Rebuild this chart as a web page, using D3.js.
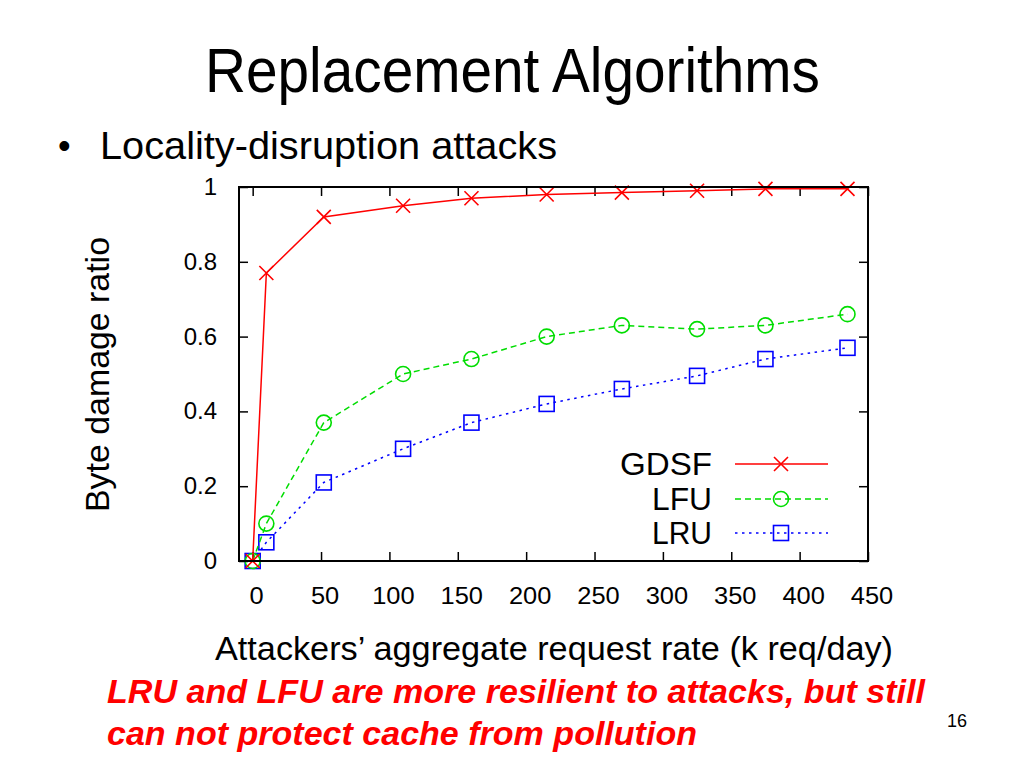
<!DOCTYPE html>
<html><head><meta charset="utf-8">
<script src="https://cdn.jsdelivr.net/npm/d3@7"></script>
<style>
html,body{margin:0;padding:0;background:#fff;}
svg{display:block;font-family:"Liberation Sans",Arial,Helvetica,sans-serif;}
</style></head>
<body>
<svg id="c" width="1024" height="768"></svg>
<script>
const xValues = [0, 10, 52, 110, 160, 215, 270, 325, 375, 435];
const gdsf = [0, 0.77, 0.92, 0.95, 0.97, 0.98, 0.985, 0.99, 0.995, 0.995];
const lfu  = [0, 0.10, 0.37, 0.50, 0.54, 0.60, 0.63, 0.62, 0.63, 0.66];
const lru  = [0, 0.05, 0.21, 0.30, 0.37, 0.42, 0.46, 0.495, 0.54, 0.57];
const seriesNames = ["GDSF", "LFU", "LRU"];
const xTicks = [0, 50, 100, 150, 200, 250, 300, 350, 400, 450];
const yTicks = [0, 0.2, 0.4, 0.6, 0.8, 1];
const yTickLabels = ["0", "0.2", "0.4", "0.6", "0.8", "1"];

const svg = d3.select("#c");
const L = 239, R = 868, T = 187, B = 561;
const x = d3.scaleLinear().domain([-10, 450]).range([L, R]);
const y = d3.scaleLinear().domain([0, 1]).range([B, T]);

// Title & bullet
svg.append("text").attr("x", 205).attr("y", 92).attr("font-size", 63)
  .attr("textLength", 615).attr("lengthAdjust", "spacingAndGlyphs").text("Replacement Algorithms");
svg.append("text").attr("x", 58).attr("y", 158).attr("font-size", 36).text("•");
svg.append("text").attr("x", 100).attr("y", 159).attr("font-size", 39)
  .attr("textLength", 457).attr("lengthAdjust", "spacingAndGlyphs").text("Locality-disruption attacks");

// axes (ticks inward)
const tickLen = 9;
const gx = svg.append("g").attr("transform", `translate(0,${B})`)
  .call(d3.axisBottom(x).tickValues(xTicks).tickSize(-tickLen).tickFormat(""));
const gxt = svg.append("g").attr("transform", `translate(0,${T})`)
  .call(d3.axisTop(x).tickValues(xTicks).tickSize(-tickLen).tickFormat(""));
const gy = svg.append("g").attr("transform", `translate(${L},0)`)
  .call(d3.axisLeft(y).tickValues(yTicks).tickSize(-tickLen).tickFormat(""));
const gyr = svg.append("g").attr("transform", `translate(${R},0)`)
  .call(d3.axisRight(y).tickValues(yTicks).tickSize(-tickLen).tickFormat(""));
[gx, gxt, gy, gyr].forEach(g => {
  g.select(".domain").remove();
  g.selectAll(".tick line").attr("stroke", "#000").attr("stroke-width", 1.5);
});

// tick labels
svg.append("g").selectAll("text").data(xTicks).join("text")
  .attr("x", d => x(d) + 4).attr("y", 604).attr("text-anchor", "middle")
  .attr("font-size", 24).attr("transform", d => `translate(${x(d)+4},604) scale(1.06,1) translate(${-(x(d)+4)},-604)`)
  .text(d => d);
svg.append("g").selectAll("text").data(yTicks).join("text")
  .attr("x", 217).attr("y", d => y(d) + 8).attr("text-anchor", "end")
  .attr("font-size", 24).text((d, i) => yTickLabels[i]);

// axis titles
svg.append("text").attr("x", 215).attr("y", 660).attr("font-size", 33)
  .attr("textLength", 678).attr("lengthAdjust", "spacingAndGlyphs")
  .text("Attackers\u2019 aggregate request rate (k req/day)");
svg.append("text").attr("transform", "translate(109,512) rotate(-90)").attr("font-size", 34)
  .attr("textLength", 275).attr("lengthAdjust", "spacingAndGlyphs").text("Byte damage ratio");

// series
const data = [
  {name: seriesNames[0], vals: gdsf, color: "#ff0000", dash: null, marker: "x"},
  {name: seriesNames[1], vals: lfu, color: "#00dd00", dash: "6,4", marker: "o"},
  {name: seriesNames[2], vals: lru, color: "#0000ff", dash: "2.5,4.5", marker: "s"}
];
const line = d3.line().x(d => x(d[0])).y(d => y(d[1]));
function drawMarker(g, type, color, cx, cy) {
  if (type === "x") {
    const s = 7;
    g.append("path").attr("d", `M${cx-s},${cy-s}L${cx+s},${cy+s}M${cx-s},${cy+s}L${cx+s},${cy-s}`)
      .attr("stroke", color).attr("stroke-width", 1.6).attr("fill", "none");
  } else if (type === "o") {
    g.append("circle").attr("cx", cx).attr("cy", cy).attr("r", 7.5)
      .attr("stroke", color).attr("stroke-width", 1.6).attr("fill", "none");
  } else {
    g.append("rect").attr("x", cx-7.5).attr("y", cy-7.5).attr("width", 15).attr("height", 15)
      .attr("stroke", color).attr("stroke-width", 1.6).attr("fill", "none");
  }
}
data.slice().reverse().forEach(s => {
  const pts = xValues.map((xv, i) => [xv, s.vals[i]]);
  const g = svg.append("g");
  g.append("path").attr("d", line(pts)).attr("fill", "none").attr("stroke", s.color)
    .attr("stroke-width", 1.5).attr("stroke-dasharray", s.dash);
  pts.forEach(p => drawMarker(g, s.marker, s.color, x(p[0]), y(p[1])));
});

// legend
const legY = [464, 499, 533];
const legW = [92, 60, 60];
data.forEach((s, i) => {
  const g = svg.append("g");
  g.append("text").attr("x", 712 - legW[i]).attr("y", legY[i] + 11)
    .attr("font-size", 32).attr("textLength", legW[i]).attr("lengthAdjust", "spacingAndGlyphs").text(s.name);
  g.append("line").attr("x1", 735).attr("x2", 828).attr("y1", legY[i]).attr("y2", legY[i])
    .attr("stroke", s.color).attr("stroke-width", 1.5).attr("stroke-dasharray", s.dash);
  drawMarker(g, s.marker, s.color, 781, legY[i]);
});

// frame
svg.append("rect").attr("x", L).attr("y", T).attr("width", R - L).attr("height", B - T)
  .attr("fill", "none").attr("stroke", "#000").attr("stroke-width", 2);

// bottom note
const note = svg.append("g").attr("fill", "#ff0000").attr("font-weight", "bold").attr("font-style", "italic").attr("font-size", 33);
note.append("text").attr("x", 107).attr("y", 703).attr("textLength", 818).attr("lengthAdjust", "spacingAndGlyphs")
  .text("LRU and LFU are more resilient to attacks, but still");
note.append("text").attr("x", 107).attr("y", 745).attr("textLength", 590).attr("lengthAdjust", "spacingAndGlyphs")
  .text("can not protect cache from pollution");
svg.append("text").attr("x", 957).attr("y", 727).attr("text-anchor", "middle").attr("font-size", 18).text("16");
</script>
</body></html>
